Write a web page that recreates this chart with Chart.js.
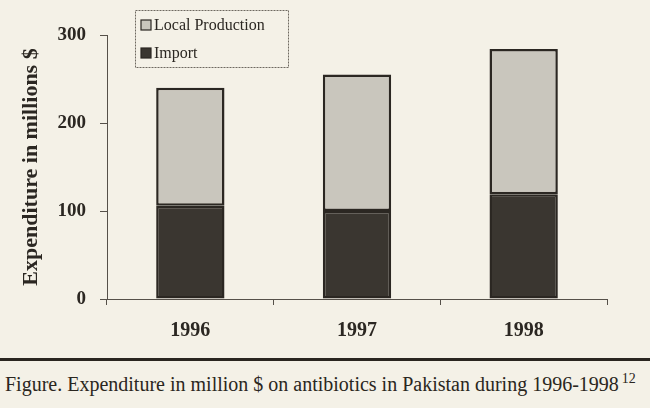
<!DOCTYPE html>
<html>
<head>
<meta charset="utf-8">
<script src="https://cdn.jsdelivr.net/npm/chart.js@4.4.1/dist/chart.umd.min.js"></script>
<style>
  html, body { margin: 0; padding: 0; background: #f4f1e7; }
  #wrap { position: relative; width: 650px; height: 408px; overflow: hidden; background: #f4f1e7; }
  #c { position: absolute; left: 0; top: 0; }
  #rule { position: absolute; left: 0; top: 358px; width: 650px; height: 3px; background: #2a2620; }
  #cap { position: absolute; left: 5px; top: 371px; font-family: "Liberation Serif", "DejaVu Serif", serif; font-size: 20px; color: #2a2620; white-space: nowrap; }
  #cap sup { font-size: 14px; vertical-align: 8px; margin-left: 3px; }
</style>
</head>
<body>
<div id="wrap">
  <canvas id="c" width="650" height="352"></canvas>
  <div id="rule"></div>
  <div id="cap">Figure. Expenditure in million $ on antibiotics in Pakistan during 1996-1998<sup>12</sup></div>
</div>
<script>
const categories = ["1996", "1997", "1998"];
const importValues = [106, 100, 119];
const localProductionValues = [134, 155, 165];
const yTicks = [0, 100, 200, 300];
const seriesLabels = ["Import", "Local Production"];

const ink = "#2b2722";
const lightFill = "#c9c6bd";
const darkFill = "#3a3630";

const bgPlugin = {
  id: "bg",
  beforeDraw(chart) {
    const ctx = chart.ctx;
    ctx.save();
    ctx.fillStyle = "#f4f1e7";
    ctx.fillRect(0, 0, chart.width, chart.height);
    ctx.restore();
  }
};

const legendPlugin = {
  id: "boxLegend",
  afterDraw(chart) {
    const ctx = chart.ctx;
    const a = chart.chartArea;
    const x0 = a.left + 28, y0 = a.top - 25, w = 153, h = 57;
    ctx.save();
    ctx.strokeStyle = "#6e6960";
    ctx.lineWidth = 1;
    ctx.setLineDash([2, 1]);
    ctx.strokeRect(x0 + 0.5, y0 + 0.5, w, h);
    ctx.setLineDash([]);
    const items = chart.data.datasets.slice().reverse();
    ctx.font = "16px 'Liberation Serif', serif";
    ctx.textBaseline = "middle";
    items.forEach((ds, i) => {
      const cy = y0 + 15 + i * 28;
      ctx.fillStyle = ds.backgroundColor;
      ctx.fillRect(x0 + 6, cy - 5, 10, 10);
      ctx.strokeStyle = ink;
      ctx.lineWidth = 1.2;
      ctx.strokeRect(x0 + 6, cy - 5, 10, 10);
      ctx.fillStyle = ink;
      ctx.fillText(ds.label, x0 + 19, cy + 1);
    });
    ctx.restore();
  }
};

new Chart(document.getElementById("c"), {
  type: "bar",
  data: {
    labels: categories,
    datasets: [
      { label: seriesLabels[0], data: importValues, backgroundColor: darkFill, borderColor: ink, borderWidth: 2.5, borderSkipped: false },
      { label: seriesLabels[1], data: localProductionValues, backgroundColor: lightFill, borderColor: ink, borderWidth: 2.5, borderSkipped: false }
    ]
  },
  plugins: [bgPlugin, legendPlugin],
  options: {
    responsive: false,
    animation: false,
    devicePixelRatio: 1,
    layout: { padding: { top: 35, right: 43, left: 0, bottom: 0 } },
    datasets: { bar: { barPercentage: 0.41, categoryPercentage: 1 } },
    plugins: { legend: { display: false }, tooltip: { enabled: false } },
    scales: {
      x: {
        stacked: true,
        afterFit(s) { s.height = 53; },
        grid: { offset: true, drawOnChartArea: false, tickLength: 6, color: "#555049", lineWidth: 1 },
        border: { color: "#555049", width: 1 },
        ticks: { color: ink, padding: 14, font: { family: "'Liberation Serif', serif", size: 20, weight: "bold" } }
      },
      y: {
        stacked: true,
        min: 0,
        max: 300,
        afterFit(s) { s.width = 107; },
        afterBuildTicks(s) { s.ticks = yTicks.map(v => ({ value: v })); },
        grid: { drawOnChartArea: false, tickLength: 7, color: "#555049", lineWidth: 1 },
        border: { color: "#555049", width: 1 },
        ticks: { color: ink, padding: 14, font: { family: "'Liberation Serif', serif", size: 19, weight: "bold" } },
        title: {
          display: true,
          text: "Expenditure in millions $",
          color: ink,
          padding: { top: 18, bottom: 0 },
          font: { family: "'Liberation Serif', serif", size: 22, weight: "bold" }
        }
      }
    }
  }
});
</script>
</body>
</html>
